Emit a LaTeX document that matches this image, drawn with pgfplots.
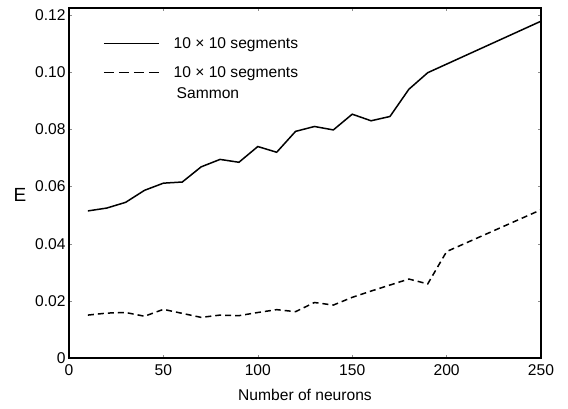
\documentclass[border=0pt]{standalone}
\usepackage{fontspec}
\setmainfont{Liberation Sans}
\usepackage{pgfplots}
\pgfplotsset{compat=1.18}
\newcommand\lbl{\fontsize{15.6}{18}\selectfont}
\begin{document}
\begin{tikzpicture}
\begin{axis}[
  scale only axis, width=472pt, height=350pt,
  xmin=0, xmax=250, ymin=0, ymax=0.1223,
  xtick={0,50,...,250},
  ytick={0,0.02,0.04,0.06,0.08,0.10,0.12},
  yticklabels={0,0.02,0.04,0.06,0.08,0.10,0.12},
  /pgf/number format/assume math mode=true,
  tick label style={font=\lbl},
  xticklabel style={yshift=-2.5pt},
  tick align=inside, major tick length=3pt,
  tick style={line width=0.4pt, black!45},
  axis line style={line width=2pt},
  xlabel={Number of neurons},
  xlabel style={font=\lbl, at={(axis description cs:0.5,-0.106)}, anchor=center},
  ylabel={E},
  ylabel style={font=\fontsize{19}{22}\selectfont, rotate=-90, at={(axis description cs:-0.104,0.467)}, anchor=center},
  legend style={draw=none, fill=none, at={(axis description cs:0.072,0.92)}, anchor=north west,
    inner sep=0pt, row sep=15.5pt, column sep=14pt, font=\lbl,
    nodes={inner sep=0pt, text height=12pt, text depth=1.5pt}, cells={anchor=west}},
  legend image code/.code={\draw[#1] (0pt,0pt) -- (55pt,0pt);},
]
% 10 x 10 segments
\addplot[black, line width=1.5pt] coordinates {
  (10,0.0515) (20,0.0525) (30,0.0545) (40,0.0587) (50,0.0612) (60,0.0616)
  (70,0.0669) (80,0.0695) (90,0.0685) (100,0.0740) (110,0.0720) (120,0.0793)
  (130,0.0810) (140,0.0798) (150,0.0853) (160,0.0830) (170,0.0845) (180,0.0940)
  (190,0.0998) (250,0.1178)
};
\addlegendentry{10 × 10 segments}
% 10 x 10 segments, Sammon
\addplot[black, line width=1.5pt, dash pattern=on 6pt off 4pt,
  legend image post style={dash pattern=on 10pt off 5pt}] coordinates {
  (10,0.0151) (20,0.0158) (30,0.0160) (40,0.0147) (50,0.0171) (60,0.0157)
  (70,0.0143) (80,0.0151) (90,0.0149) (100,0.0160) (110,0.0170) (120,0.0163)
  (130,0.0195) (140,0.0186) (150,0.0213) (160,0.0235) (170,0.0256) (180,0.0277)
  (190,0.0260) (200,0.0373) (250,0.0519)
};
\addlegendentry{10 × 10 segments}
\addlegendimage{empty legend}
\addlegendentry{\raisebox{8pt}{\hspace{3pt}Sammon}}
\end{axis}
\path ([shift={(-69pt,-49.7pt)}]current axis.south west) rectangle ([shift={(27pt,8.3pt)}]current axis.north east);
\end{tikzpicture}
\end{document}
